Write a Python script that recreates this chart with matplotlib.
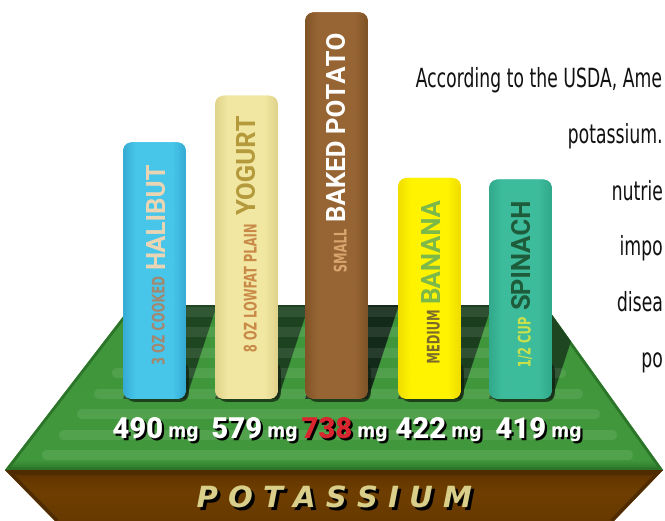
import matplotlib
matplotlib.use("Agg")
import matplotlib.pyplot as plt
import numpy as np
from matplotlib import font_manager
from matplotlib.patches import Polygon, FancyBboxPatch
from matplotlib.colors import to_rgb
from matplotlib.transforms import Affine2D
import matplotlib.patheffects as pe

# ---------------- data ----------------
foods = ["HALIBUT", "YOGURT", "BAKED POTATO", "BANANA", "SPINACH"]
portions = ["3 OZ COOKED", "8 OZ LOWFAT PLAIN", "SMALL", "MEDIUM", "1/2 CUP"]
potassium_mg = [490, 579, 738, 422, 419]
unit_label = "mg"
nutrient = "P O T A S S I U M"
intro_lines = ["According to the USDA, Ame", "potassium.", "nutrie", "impo", "disea", "po"]

# ---------------- styles / layout ----------------
bar_colors = ["#47c6ea", "#f1e7a2", "#976534", "#fff300", "#3dbc9c"]
bar_edge_colors = ["#36abd4", "#e0d38c", "#805427", "#efdc00", "#31a98b"]
portion_colors = ["#a3876f", "#c98a48", "#d8a56e", "#7a6a2c", "#c8e04c"]
food_colors = ["#ebd6b3", "#b59a3c", "#ffffff", "#7cb94a", "#1e5b3a"]
value_colors = ["#ffffff", "#ffffff", "#d9252f", "#ffffff", "#ffffff"]
shadow_colors = ["#1e4721", "#1c4220", "#13291a", "#1b3f1e", "#1e4721"]
bar_centers = [154.5, 246.5, 336.5, 429.5, 520.5]
label_right = [163, 262, 352, 446, 546]
intro_y = [87, 143, 200, 255, 311, 367]

W, H = 665, 521
BASE_Y = 399          # pixel row of the bar bottoms
PX_PER_MG = 0.524     # vertical scale of the bar axes
MG_PER_PX = 1 / PX_PER_MG
BAR_W = 63
SHADOW_SLOPE = 0.33


class Tall(pe.AbstractPathEffect):
    """Draw text glyphs stretched perpendicular to their reading direction."""

    def __init__(self, sy):
        super().__init__()
        self.sy = sy

    def draw_path(self, renderer, gc, tpath, affine, rgbFace=None):
        renderer.draw_path(gc, tpath, Affine2D().scale(1, self.sy) + affine, rgbFace)


def have(name):
    return any(f.name == name for f in font_manager.fontManager.ttflist)


cond_dv = [f for f in font_manager.fontManager.ttflist
           if f.name == 'DejaVu Sans' and f.stretch == 'condensed']
if have('Liberation Sans Narrow'):
    NARROW = dict(family='Liberation Sans Narrow')
elif cond_dv:
    NARROW = dict(family='DejaVu Sans', stretch='condensed')
else:
    NARROW = dict(family='Roboto')
BOLDF = 'Roboto' if have('Roboto') else 'DejaVu Sans'

fig = plt.figure(figsize=(W / 100, H / 100), dpi=100)
fig.patch.set_facecolor('white')
bg = fig.add_axes([0, 0, 1, 1])
bg.set_xlim(0, W)
bg.set_ylim(H, 0)
bg.set_autoscale_on(False)
bg.axis('off')


def vgrad(ax, y0, y1, stops, clip, x0=0, x1=W, z=1):
    ys = np.linspace(y0, y1, 300)
    pos = [p for p, _ in stops]
    cols = np.array([to_rgb(c) for _, c in stops])
    arr = np.stack([np.interp(ys, pos, cols[:, k]) for k in range(3)], axis=-1)[:, None, :]
    im = ax.imshow(arr, extent=(x0, x1, y1, y0), origin='upper', aspect='auto',
                   interpolation='bilinear', zorder=z)
    im.set_clip_path(clip)
    return im


# ---------------- ground platform ----------------
TOP_Y, BOT_Y = 305, 470
TL, TR, BL, BR = 132, 545, 5, 663
pts = [(TL, TOP_Y), (TR, TOP_Y), (BR, BOT_Y), (BL, BOT_Y)]
platform = Polygon(pts, closed=True, facecolor='#41993d', edgecolor='none', zorder=1)
bg.add_patch(platform)
vgrad(bg, TOP_Y, BOT_Y, [(305, '#245c23'), (312, '#378a36'), (326, '#3f963b'),
                         (460, '#42993d'), (470, '#2d7a2b')], platform, z=1.1)
edge = Polygon(pts, closed=True, fill=False, edgecolor='#2c7429', lw=4, zorder=1.2)
bg.add_patch(edge)
edge.set_clip_path(platform)

# base
base_poly = [(BL, BOT_Y), (BR, BOT_Y), (612, H + 2), (57, H + 2)]
base = Polygon(base_poly, closed=True, facecolor='#6d3e00', edgecolor='none', zorder=1)
bg.add_patch(base)
vgrad(bg, BOT_Y, H + 2, [(470, '#3a1f00'), (477, '#643700'), (492, '#6f3f00'),
                         (523, '#673900')], base, z=1.1)
bedge = Polygon(base_poly, closed=True, fill=False, edgecolor='#4e2b00', lw=5, zorder=1.2)
bg.add_patch(bedge)
bedge.set_clip_path(base)


def left_x(y):
    return BL + (TL - BL) * (BOT_Y - y) / (BOT_Y - TOP_Y)


def right_x(y):
    return BR - (BR - TR) * (BOT_Y - y) / (BOT_Y - TOP_Y)


# ---------------- bars (mg scale) ----------------
bx = fig.add_axes([0, (H - BASE_Y) / H, 1, BASE_Y / H])
bx.axis('off')
bx.patch.set_alpha(0)
bx.set_xlim(0, W)
bx.set_ylim(0, BASE_Y * MG_PER_PX)
bx.set_autoscale_on(False)
bars = bx.bar(bar_centers, potassium_mg, width=BAR_W, color=bar_colors)

to_bg = bx.transData + bg.transData.inverted()

for i, r in enumerate(bars):
    r.set_visible(False)
    x, w, h = r.get_x(), r.get_width(), r.get_height()
    # cast shadow on the platform (bg pixel space)
    (px0, py0) = to_bg.transform((x, 0))
    (px1, _) = to_bg.transform((x + w, 0))
    yt = TOP_Y - 5
    d = SHADOW_SLOPE * (py0 - yt)
    sh = Polygon([(px0, py0), (px1, py0), (px1 + d, yt), (px0 + d, yt)], closed=True,
                 facecolor=shadow_colors[i], edgecolor='none', zorder=2)
    bg.add_patch(sh)
    sh.set_clip_path(platform)
    # contact shadow just below / right of the bar foot
    cs = FancyBboxPatch((x + 3, -3 * MG_PER_PX), w, 40 * MG_PER_PX,
                        boxstyle="round,pad=0,rounding_size=10",
                        mutation_aspect=MG_PER_PX, facecolor='#0e1d0e', edgecolor='none',
                        alpha=0.7, zorder=1)
    bx.add_patch(cs)
    cs.set_clip_box(bg.bbox)
    cs.set_clip_path(platform)
    bar = FancyBboxPatch((x, 0), w, h, boxstyle="round,pad=0,rounding_size=10",
                         mutation_aspect=MG_PER_PX, facecolor=bar_colors[i],
                         edgecolor='none', zorder=2)
    bx.add_patch(bar)
    t = np.linspace(0, 1, 100)
    ec, cc = np.array(to_rgb(bar_edge_colors[i])), np.array(to_rgb(bar_colors[i]))
    wgt = np.interp(t, [0, 0.2, 0.8, 1], [1, 0, 0, 1])[:, None]
    arr = (wgt * ec + (1 - wgt) * cc)[None, :, :]
    im = bx.imshow(arr, extent=(x, x + w, 0, h), origin='upper', aspect='auto',
                   interpolation='bilinear', zorder=2.1)
    im.set_clip_path(bar)

bx.set_xlim(0, W)
bx.set_ylim(0, BASE_Y * MG_PER_PX)

# stripes on the platform (drawn over the shadows)
for y in [312, 332, 352.5, 373, 393.5, 414, 434.5, 455]:
    xl = left_x(y) + 25 + 0.09 * (455 - y) + 5
    xr = right_x(y) - 19 - 0.1 * (455 - y) - 5
    bg.plot([xl, xr], [y, y], color='white', alpha=0.09, lw=7.2,
            solid_capstyle='round', zorder=3)

# ---------------- texts in bars ----------------
fig.canvas.draw()
renderer = fig.canvas.get_renderer()
inv = bg.transData.inverted()
SQ_PORTION = 0.74
for i, r in enumerate(bars):
    cx = r.get_x() + r.get_width() / 2
    (_, top_y) = to_bg.transform((cx, r.get_height()))
    base_x = to_bg.transform((cx, 0))[0] + 10
    t1 = bx.text(base_x, top_y + 19, foods[i], transform=bg.transData, rotation=90,
                 rotation_mode='anchor', ha='right', va='baseline', fontsize=18.5,
                 fontweight='bold', family=BOLDF, color=food_colors[i], zorder=10)
    bb = t1.get_window_extent(renderer)
    y_start = inv.transform((0, bb.y0))[1]
    bx.text(base_x, y_start + 8, portions[i], transform=bg.transData, rotation=90,
            rotation_mode='anchor', ha='right', va='baseline',
            fontsize=12.5 * SQ_PORTION, fontweight='bold', color=portion_colors[i],
            zorder=10, path_effects=[Tall(1 / SQ_PORTION)], **NARROW)

# ---------------- value labels ----------------
shadow = [pe.withSimplePatchShadow(offset=(1.6, -1.6), shadow_rgbFace='black', alpha=1.0)]
for i, v in enumerate(potassium_mg):
    bg.text(label_right[i], 438, f"{v}", ha='right', va='baseline', fontsize=21,
            fontweight='heavy', family=BOLDF, color=value_colors[i],
            path_effects=shadow, zorder=10)
    bg.text(label_right[i] + 5, 437, unit_label, ha='left', va='baseline', fontsize=14,
            fontweight='bold', color='white', path_effects=shadow, zorder=10, **NARROW)

# title on the base
bg.text(334, 507, nutrient, ha='center', va='baseline', fontsize=21, fontweight='bold',
        style='oblique', family='DejaVu Sans', color='#d9cf8b',
        path_effects=[pe.withSimplePatchShadow(offset=(2.2, -2.2), shadow_rgbFace='black',
                                               alpha=1.0)], zorder=10)

# intro paragraph (its lines run to the right edge), tall narrow glyphs
probe = bg.text(0, 0, intro_lines[0], fontsize=19, **NARROW)
w0 = probe.get_window_extent(renderer).width
probe.remove()
sq_intro = min(1.0, (663 - 417) / w0)
for y, s in zip(intro_y, intro_lines):
    bg.text(663, y, s, ha='right', va='baseline', fontsize=19 * sq_intro,
            color='#111111', zorder=10, path_effects=[Tall(1 / sq_intro)], **NARROW)

fig.savefig("out.png", dpi=100)
